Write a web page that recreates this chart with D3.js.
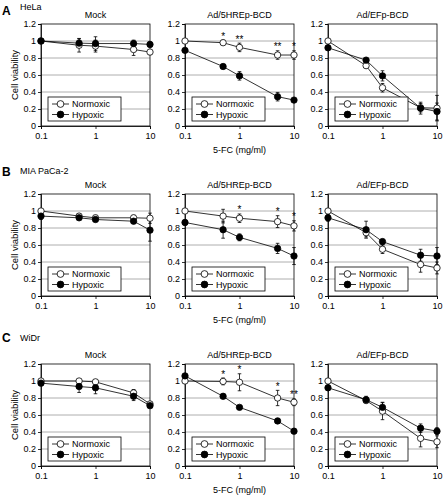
<!DOCTYPE html>
<html><head><meta charset="utf-8">
<script src="https://cdn.jsdelivr.net/npm/d3@7/dist/d3.min.js"></script>
<style>
body{margin:0;background:#fff}
svg{display:block}
text{font-family:"Liberation Sans",Arial,Helvetica,sans-serif;fill:#000}
</style></head><body>
<svg id="chart" width="445" height="497"></svg>
<script>
// ---------------- DATA ----------------
const doses = [0.1, 0.5, 1, 5, 10];
const xTickValues = [0.1, 1, 10];
const xTickLabels = ["0.1", "1", "10"];
const yTickValues = [0, 0.2, 0.4, 0.6, 0.8, 1.0, 1.2];
const yTickLabels = ["0", "0.2", "0.4", "0.6", "0.8", "1", "1.2"];
const rowLetters = ["A", "B", "C"];
const cellLines = ["HeLa", "MIA PaCa-2", "WiDr"];
const vectors = ["Mock", "Ad/5HREp-BCD", "Ad/EFp-BCD"];
const seriesNames = ["Normoxic", "Hypoxic"];
const xAxisTitle = "5-FC (mg/ml)";
const yAxisTitle = "Cell viability";

// HeLa (row A): one array per vector panel
const helaNormoxic    = [[1.00, 0.95, 0.94, 0.90, 0.87], [1.00, 0.98, 0.925, 0.835, 0.835], [1.00, 0.71, 0.45, 0.215, 0.21]];
const helaNormoxicErr = [[0.02, 0.08, 0.07, 0.07, 0.03], [0.02, 0.03, 0.05, 0.05, 0.05], [0.02, 0.03, 0.05, 0.05, 0.15]];
const helaHypoxic     = [[1.00, 0.975, 0.97, 0.97, 0.96], [0.89, 0.70, 0.59, 0.345, 0.305], [0.92, 0.775, 0.59, 0.21, 0.17]];
const helaHypoxicErr  = [[0.03, 0.05, 0.08, 0.04, 0.03], [0.02, 0.02, 0.05, 0.05, 0.02], [0.02, 0.02, 0.06, 0.07, 0.10]];
const helaSig         = [["", "", "", "", ""], ["", "*", "**", "**", "*"], ["", "", "", "", ""]];

// MIA PaCa-2 (row B)
const miaNormoxic     = [[1.00, 0.94, 0.92, 0.92, 0.915], [1.00, 0.94, 0.915, 0.875, 0.825], [1.00, 0.745, 0.55, 0.37, 0.33]];
const miaNormoxicErr  = [[0.02, 0.03, 0.03, 0.03, 0.06], [0.02, 0.08, 0.05, 0.07, 0.06], [0.02, 0.05, 0.05, 0.09, 0.07]];
const miaHypoxic      = [[0.94, 0.92, 0.90, 0.88, 0.775], [0.865, 0.78, 0.69, 0.56, 0.47], [0.92, 0.78, 0.64, 0.48, 0.47]];
const miaHypoxicErr   = [[0.04, 0.02, 0.02, 0.02, 0.13], [0.03, 0.10, 0.04, 0.06, 0.10], [0.04, 0.10, 0.03, 0.07, 0.10]];
const miaSig          = [["", "", "", "", ""], ["", "", "*", "*", "*"], ["", "", "", "", ""]];

// WiDr (row C)
const widrNormoxic    = [[1.00, 1.00, 0.99, 0.86, 0.73], [1.00, 0.995, 0.985, 0.80, 0.75], [1.00, 0.77, 0.645, 0.325, 0.285]];
const widrNormoxicErr = [[0.02, 0.02, 0.02, 0.04, 0.02], [0.02, 0.04, 0.10, 0.09, 0.04], [0.02, 0.02, 0.10, 0.10, 0.07]];
const widrHypoxic     = [[0.975, 0.935, 0.92, 0.82, 0.71], [1.06, 0.82, 0.69, 0.53, 0.41], [0.92, 0.78, 0.69, 0.445, 0.41]];
const widrHypoxicErr  = [[0.03, 0.07, 0.07, 0.05, 0.02], [0.02, 0.01, 0.01, 0.03, 0.03], [0.03, 0.04, 0.06, 0.05, 0.04]];
const widrSig         = [["", "", "", "", ""], ["", "*", "*", "*", "**"], ["", "", "", "", ""]];

// ---------------- LAYOUT ----------------
const colLeft = [41, 185, 328];
const rowTop = [24, 194, 364];
const plotW = 109, plotH = 102;
const letterBase = [15, 176, 342];
const labelBase = [10, 174, 341];

const rowsData = [
  {n: helaNormoxic, ne: helaNormoxicErr, h: helaHypoxic, he: helaHypoxicErr, sig: helaSig},
  {n: miaNormoxic, ne: miaNormoxicErr, h: miaHypoxic, he: miaHypoxicErr, sig: miaSig},
  {n: widrNormoxic, ne: widrNormoxicErr, h: widrHypoxic, he: widrHypoxicErr, sig: widrSig}
];

const svg = d3.select("#chart");
const x = d3.scaleLog().domain([0.1, 10]).range([0, plotW]);
const y = d3.scaleLinear().domain([0, 1.2]).range([plotH, 0]);
const FS = 9;

rowsData.forEach((rd, r) => {
  svg.append("text").attr("x", 2).attr("y", letterBase[r])
    .style("font-size", "12px").style("font-weight", "bold").text(rowLetters[r]);
  svg.append("text").attr("x", 20).attr("y", labelBase[r])
    .style("font-size", "9px").text(cellLines[r]);

  vectors.forEach((vec, c) => {
    const g = svg.append("g").attr("transform", `translate(${colLeft[c]},${rowTop[r]})`);

    // gridlines
    g.selectAll("line.grid").data(yTickValues.filter(v => v > 0 && v < 1.2)).enter()
      .append("line").attr("class", "grid")
      .attr("x1", 0).attr("x2", plotW).attr("y1", d => y(d)).attr("y2", d => y(d))
      .attr("stroke", "#9a9a9a").attr("stroke-width", 0.8);

    // frame
    g.append("rect").attr("x", 0).attr("y", 0).attr("width", plotW).attr("height", plotH)
      .attr("fill", "none").attr("stroke", "#000").attr("stroke-width", 0.8);

    // axes
    const ya = g.append("g").call(d3.axisLeft(y).tickValues(yTickValues)
      .tickFormat((d, i) => yTickLabels[i]).tickSize(3).tickPadding(2));
    const xa = g.append("g").attr("transform", `translate(0,${plotH})`)
      .call(d3.axisBottom(x).tickValues(xTickValues)
      .tickFormat((d, i) => xTickLabels[i]).tickSize(3).tickPadding(4));
    [ya, xa].forEach(a => {
      a.select(".domain").attr("stroke", "#000").attr("stroke-width", 0.8);
      a.selectAll(".tick line").attr("stroke", "#000").attr("stroke-width", 0.8);
      a.selectAll("text").style("font-size", FS + "px")
        .style("font-family", '"Liberation Sans",Arial,sans-serif').attr("fill", "#000");
    });

    // title
    g.append("text").attr("x", plotW / 2).attr("y", -6).attr("text-anchor", "middle")
      .style("font-size", FS + "px").text(vec);

    if (c === 0) {
      svg.append("text")
        .attr("transform", `translate(18,${rowTop[r] + plotH / 2}) rotate(-90)`)
        .attr("text-anchor", "middle").style("font-size", "9.5px").text(yAxisTitle);
    }
    if (c === 1) {
      g.append("text").attr("x", plotW / 2).attr("y", plotH + 27).attr("text-anchor", "middle")
        .style("font-size", FS + "px").text(xAxisTitle);
    }

    const series = [
      {name: seriesNames[0], vals: rd.n[c], errs: rd.ne[c], fill: "#fff"},
      {name: seriesNames[1], vals: rd.h[c], errs: rd.he[c], fill: "#000"}
    ];
    const line = d3.line().x(d => x(d.dose)).y(d => y(d.v));

    series.forEach(s => {
      const pts = doses.map((d, i) => ({dose: d, v: s.vals[i], e: s.errs[i]}));
      g.append("path").datum(pts).attr("d", line).attr("fill", "none")
        .attr("stroke", "#000").attr("stroke-width", 0.8);
      const eb = g.selectAll(null).data(pts).enter().append("g");
      eb.append("line").attr("x1", d => x(d.dose)).attr("x2", d => x(d.dose))
        .attr("y1", d => y(d.v - d.e)).attr("y2", d => y(d.v + d.e))
        .attr("stroke", "#000").attr("stroke-width", 0.8);
      [-1, 1].forEach(sg => {
        eb.append("line").attr("x1", d => x(d.dose) - 1.8).attr("x2", d => x(d.dose) + 1.8)
          .attr("y1", d => y(d.v + sg * d.e)).attr("y2", d => y(d.v + sg * d.e))
          .attr("stroke", "#000").attr("stroke-width", 0.8);
      });
    });
    series.forEach(s => {
      const pts = doses.map((d, i) => ({dose: d, v: s.vals[i]}));
      g.selectAll(null).data(pts).enter().append("circle")
        .attr("cx", d => x(d.dose)).attr("cy", d => y(d.v)).attr("r", 3.2)
        .attr("fill", s.fill).attr("stroke", "#000").attr("stroke-width", 0.8);
    });

    // significance marks
    const sigPts = doses.map((d, i) => ({dose: d, s: rd.sig[c][i], top: rd.n[c][i] + rd.ne[c][i]}));
    g.selectAll(null).data(sigPts.filter(d => d.s)).enter().append("text")
      .attr("x", d => x(d.dose)).attr("y", d => y(d.top) - 0.5).attr("text-anchor", "middle")
      .style("font-size", "10px").text(d => d.s);

    // legend
    const lg = g.append("g").attr("transform", `translate(7,${plotH - 29})`);
    lg.append("rect").attr("width", 73).attr("height", 24).attr("fill", "#fff")
      .attr("stroke", "#000").attr("stroke-width", 0.8);
    series.forEach((s, i) => {
      const yy = 7 + i * 10.5;
      lg.append("line").attr("x1", 4).attr("x2", 21).attr("y1", yy).attr("y2", yy)
        .attr("stroke", "#000").attr("stroke-width", 0.8);
      lg.append("circle").attr("cx", 12.5).attr("cy", yy).attr("r", 3.4)
        .attr("fill", s.fill).attr("stroke", "#000").attr("stroke-width", 0.8);
      lg.append("text").attr("x", 24).attr("y", yy + 3.3).style("font-size", FS + "px").text(s.name);
    });
  });
});
</script>
</body></html>
